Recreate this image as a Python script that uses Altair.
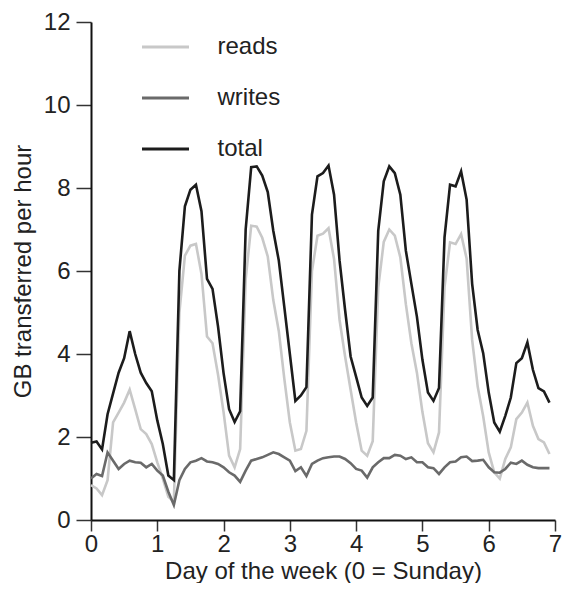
import altair as alt
import pandas as pd

# Two-hour samples over one week: sample k sits at day k/12
series_names = ["reads", "writes", "total"]
series_colors = ["#c8c8c8", "#6a6a6a", "#1c1c1c"]
day_ticks = [0, 1, 2, 3, 4, 5, 6, 7]
gb_ticks = [0, 2, 4, 6, 8, 10, 12]

reads = [
    0.84, 0.76, 0.60, 0.96, 2.35, 2.59, 2.83, 3.14, 2.67, 2.19, 2.07, 1.83,
    1.39, 1.00, 0.56, 0.44, 5.00, 6.37, 6.61, 6.65, 5.93, 4.42, 4.26, 3.50,
    2.60, 1.55, 1.27, 1.71, 5.80, 7.09, 7.07, 6.80, 6.35, 5.30, 4.55, 3.40,
    2.35, 1.67, 1.71, 2.15, 6.00, 6.85, 6.90, 7.03, 6.29, 4.82, 3.94, 3.14,
    2.35, 1.67, 1.55, 1.90, 5.60, 6.70, 7.00, 6.85, 6.33, 5.20, 4.26, 3.55,
    2.60, 1.85, 1.63, 2.11, 5.61, 6.69, 6.65, 6.89, 6.30, 4.34, 3.22, 2.50,
    1.63, 1.15, 1.00, 1.47, 1.75, 2.43, 2.59, 2.83, 2.27, 1.95, 1.87, 1.59,
]
writes = [
    1.00, 1.11, 1.06, 1.63, 1.43, 1.23, 1.35, 1.43, 1.39, 1.38, 1.27, 1.35,
    1.19, 1.07, 0.68, 0.36, 0.96, 1.23, 1.39, 1.43, 1.49, 1.41, 1.39, 1.35,
    1.27, 1.15, 1.07, 0.92, 1.19, 1.43, 1.47, 1.51, 1.57, 1.63, 1.59, 1.51,
    1.43, 1.18, 1.27, 1.06, 1.35, 1.43, 1.49, 1.51, 1.53, 1.53, 1.47, 1.37,
    1.23, 1.19, 1.02, 1.27, 1.39, 1.49, 1.49, 1.57, 1.55, 1.47, 1.51, 1.39,
    1.39, 1.27, 1.25, 1.11, 1.27, 1.39, 1.41, 1.51, 1.53, 1.42, 1.43, 1.45,
    1.27, 1.15, 1.14, 1.23, 1.38, 1.35, 1.43, 1.33, 1.27, 1.25, 1.25, 1.25,
]
total = [
    1.86, 1.89, 1.70, 2.55, 3.05, 3.55, 3.90, 4.55, 4.00, 3.55, 3.30, 3.10,
    2.40, 1.83, 1.07, 0.96, 6.00, 7.56, 7.96, 8.08, 7.44, 5.81, 5.57, 4.66,
    3.54, 2.67, 2.36, 2.62, 7.00, 8.50, 8.52, 8.30, 7.90, 6.97, 6.25, 5.13,
    4.00, 2.87, 3.00, 3.20, 7.36, 8.28, 8.36, 8.54, 7.84, 6.25, 5.06, 3.94,
    3.45, 2.95, 2.75, 2.95, 6.97, 8.16, 8.52, 8.36, 7.84, 6.49, 5.69, 4.90,
    3.86, 3.07, 2.87, 3.18, 6.81, 8.08, 8.04, 8.40, 7.72, 5.69, 4.58, 4.02,
    3.07, 2.35, 2.13, 2.51, 2.95, 3.78, 3.90, 4.28, 3.62, 3.18, 3.10, 2.83,
]

rows = []
for name, vals in zip(series_names, [reads, writes, total]):
    for k, v in enumerate(vals):
        rows.append({"day": k / 12.0, "gb": v, "series": name})
df = pd.DataFrame(rows)

FONT = "Liberation Sans"
FS = 24

chart = (
    alt.Chart(df)
    .mark_line(strokeWidth=2.6)
    .encode(
        x=alt.X(
            "day:Q",
            scale=alt.Scale(domain=[0, 7], nice=False, zero=False),
            axis=alt.Axis(
                values=day_ticks,
                title="Day of the week (0 = Sunday)",
                format="d",
                labelPadding=1,
                tickSize=11,
                titleY=39,
                titleBaseline="top",
            ),
        ),
        y=alt.Y(
            "gb:Q",
            scale=alt.Scale(domain=[0, 12], nice=False),
            axis=alt.Axis(
                values=gb_ticks,
                title="GB transferred per hour",
                format="d",
                titlePadding=8,
                labelPadding=6,
                tickSize=15,
            ),
        ),
        color=alt.Color(
            "series:N",
            scale=alt.Scale(domain=series_names, range=series_colors),
            legend=alt.Legend(
                orient="none",
                legendX=49.5,
                legendY=0,
                title=None,
                symbolType="stroke",
                symbolSize=47 * 47,
                symbolStrokeWidth=3,
                labelFontSize=FS,
                labelFont=FONT,
                labelColor="#222222",
                labelOffset=27,
                rowPadding=14,
                padding=0,
            ),
        ),
    )
    .properties(
        width=464,
        height=498,
        autosize=alt.AutoSizeParams(type="none"),
        padding={"left": 83, "top": 14, "right": 7, "bottom": 63},
    )
    .configure_view(stroke=None)
    .configure_axis(
        grid=False,
        domainColor="#111111",
        domainWidth=2,
        tickColor="#333333",
        tickWidth=1.5,
        labelFont=FONT,
        labelFontSize=FS,
        labelColor="#222222",
        labelFlush=False,
        titleFont=FONT,
        titleFontSize=FS,
        titleFontWeight="normal",
        titleColor="#222222",
    )
)

chart.save("out.html", embed_options={"renderer": "svg", "actions": False})
